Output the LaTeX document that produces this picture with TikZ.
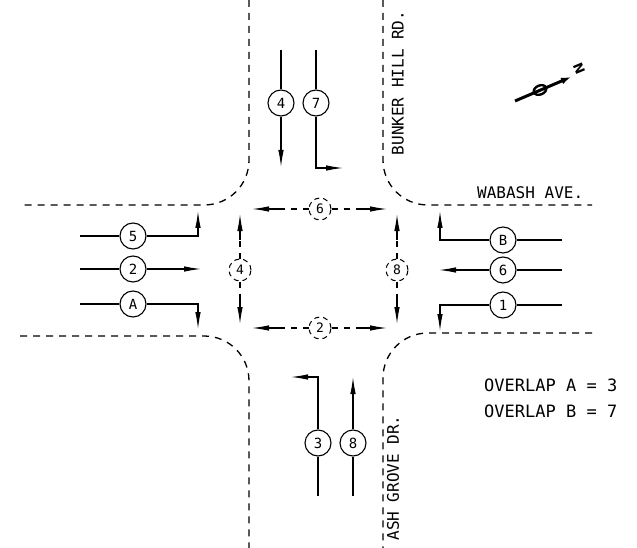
\documentclass[tikz,border=0pt]{standalone}
\usepackage{fontspec}
\setmainfont{DejaVu Sans}
\newfontfamily\dmono{DejaVu Sans Mono}
\usetikzlibrary{arrows.meta}
\tikzset{
  road/.style={line width=1.3pt, dash pattern=on 7pt off 6pt},
  lane/.style={line width=1.1pt},
  lanearr/.style={lane, -{Latex[length=17pt,width=5.5pt]}},
  lc/.style={circle, draw, line width=1.1pt, minimum size=26pt, inner sep=0pt, font=\dmono\fontsize{14}{14}\selectfont},
  pc/.style={circle, draw, line width=1pt, dash pattern=on 5pt off 4pt, minimum size=22pt, inner sep=0pt, font=\dmono\fontsize{13}{13}\selectfont},
  pdash/.style={line width=1.1pt, dash pattern=on 6pt off 6pt},
  parr/.style={line width=1.1pt, -{Latex[length=17pt,width=5.5pt]}},
  lbl/.style={font=\dmono\fontsize{16}{16}\selectfont, inner sep=0pt},
}
\begin{document}
\begin{tikzpicture}[x=1pt,y=-1pt]
\useasboundingbox (0,0) rectangle (637,548);
% ---------- road edges ----------
\draw[road] (249,0) -- (249,160) .. controls (249,185) and (229,205) .. (204,205) -- (20,205);
\draw[road] (383,0) -- (383,160) .. controls (383,185) and (403,205) .. (428,205) -- (592,205);
\draw[road] (20,336) -- (204,336) .. controls (229,336) and (249,356) .. (249,381) -- (249,548);
\draw[road] (592,333) -- (428,333) .. controls (403,333) and (383,353) .. (383,378) -- (383,548);
% ---------- street names ----------
\node[lbl, rotate=90] (bunker) at (398,83) {BUNKER HILL RD.};
\node[lbl, rotate=90] (ash) at (393,478) {ASH GROVE DR.};
\node[lbl, anchor=west] (wabash) at (477,193) {WABASH AVE.};
\node[lbl, anchor=west, font=\dmono\fontsize{17}{17}\selectfont] (ovA) at (484,385) {OVERLAP A = 3};
\node[lbl, anchor=west, font=\dmono\fontsize{17}{17}\selectfont] (ovB) at (484,411) {OVERLAP B = 7};
% ---------- north approach ----------
\node[lc] (c4) at (281,103) {4};
\node[lc] (c7) at (316,103) {7};
\coordinate (n4s) at (281,50); \coordinate (n4e) at (281,167);
\coordinate (n7s) at (316,50); \coordinate (n7k) at (316,168); \coordinate (n7e) at (343,168);
\draw[lane] (n4s) -- (c4); \draw[lanearr] (c4) -- (n4e);
\draw[lane] (n7s) -- (c7); \draw[lanearr] (c7) -- (n7k) -- (n7e);
% ---------- west approach ----------
\node[lc] (c5) at (133,236) {5};
\node[lc] (c2) at (133,269) {2};
\node[lc] (cA) at (133,304) {A};
\coordinate (w5s) at (80,236); \coordinate (w5k) at (198,236); \coordinate (w5e) at (198,211);
\coordinate (w2s) at (80,269); \coordinate (w2e) at (201,269);
\coordinate (wAs) at (80,304); \coordinate (wAk) at (198,304); \coordinate (wAe) at (198,329);
\draw[lane] (w5s) -- (c5); \draw[lanearr] (c5) -- (w5k) -- (w5e);
\draw[lane] (w2s) -- (c2); \draw[lanearr] (c2) -- (w2e);
\draw[lane] (wAs) -- (cA); \draw[lanearr] (cA) -- (wAk) -- (wAe);
% ---------- east approach ----------
\node[lc] (cB) at (503,240) {B};
\node[lc] (c6) at (503,270) {6};
\node[lc] (c1) at (503,305) {1};
\coordinate (eBs) at (562,240); \coordinate (eBk) at (440,240); \coordinate (eBe) at (440,211);
\coordinate (e6s) at (562,270); \coordinate (e6e) at (439,270);
\coordinate (e1s) at (562,305); \coordinate (e1k) at (440,305); \coordinate (e1e) at (440,331);
\draw[lane] (eBs) -- (cB); \draw[lanearr] (cB) -- (eBk) -- (eBe);
\draw[lane] (e6s) -- (c6); \draw[lanearr] (c6) -- (e6e);
\draw[lane] (e1s) -- (c1); \draw[lanearr] (c1) -- (e1k) -- (e1e);
% ---------- south approach ----------
\node[lc] (c3) at (318,443) {3};
\node[lc] (c8) at (353,443) {8};
\coordinate (s3s) at (318,496); \coordinate (s3k) at (318,377); \coordinate (s3e) at (291,377);
\coordinate (s8s) at (353,496); \coordinate (s8e) at (353,377);
\draw[lane] (s3s) -- (c3); \draw[lanearr] (c3) -- (s3k) -- (s3e);
\draw[lane] (s8s) -- (c8); \draw[lanearr] (c8) -- (s8e);
% ---------- pedestrian phases ----------
\node[pc] (p6) at (320,209) {6};
\node[pc] (p2) at (320,328) {2};
\node[pc] (p4) at (240,270) {4};
\node[pc] (p8) at (397,270) {8};
% top
\coordinate (p6la) at (279,209); \coordinate (p6l) at (252,209);
\coordinate (p6ra) at (360,209); \coordinate (p6r) at (387,209);
\draw[pdash] (p6) -- (p6la); \draw[parr] (p6la) -- (p6l);
\draw[pdash] (p6) -- (p6ra); \draw[parr] (p6ra) -- (p6r);
% bottom
\coordinate (p2la) at (279,328); \coordinate (p2l) at (252,328);
\coordinate (p2ra) at (360,328); \coordinate (p2r) at (387,328);
\draw[pdash] (p2) -- (p2la); \draw[parr] (p2la) -- (p2l);
\draw[pdash] (p2) -- (p2ra); \draw[parr] (p2ra) -- (p2r);
% left
\coordinate (p4ta) at (240,240); \coordinate (p4t) at (240,214);
\coordinate (p4ba) at (240,298); \coordinate (p4b) at (240,324);
\draw[pdash] (p4) -- (p4ta); \draw[parr] (p4ta) -- (p4t);
\draw[pdash] (p4) -- (p4ba); \draw[parr] (p4ba) -- (p4b);
% right
\coordinate (p8ta) at (397,240); \coordinate (p8t) at (397,214);
\coordinate (p8ba) at (397,298); \coordinate (p8b) at (397,324);
\draw[pdash] (p8) -- (p8ta); \draw[parr] (p8ta) -- (p8t);
\draw[pdash] (p8) -- (p8ba); \draw[parr] (p8ba) -- (p8b);
% ---------- north arrow ----------
\coordinate (na0) at (515,101); \coordinate (na1) at (571,77);
\draw[line width=3pt, -{Latex[length=10pt,width=7pt]}] (na0) -- (na1);
\draw[line width=2.4pt, rotate around={23:(540,90)}] (540,90) ellipse [x radius=6.5pt, y radius=4.5pt];
\node[rotate=-67, font=\bfseries\fontsize{13}{13}\selectfont, inner sep=0pt] (nN) at (579,69) {N};
\end{tikzpicture}
\end{document}
